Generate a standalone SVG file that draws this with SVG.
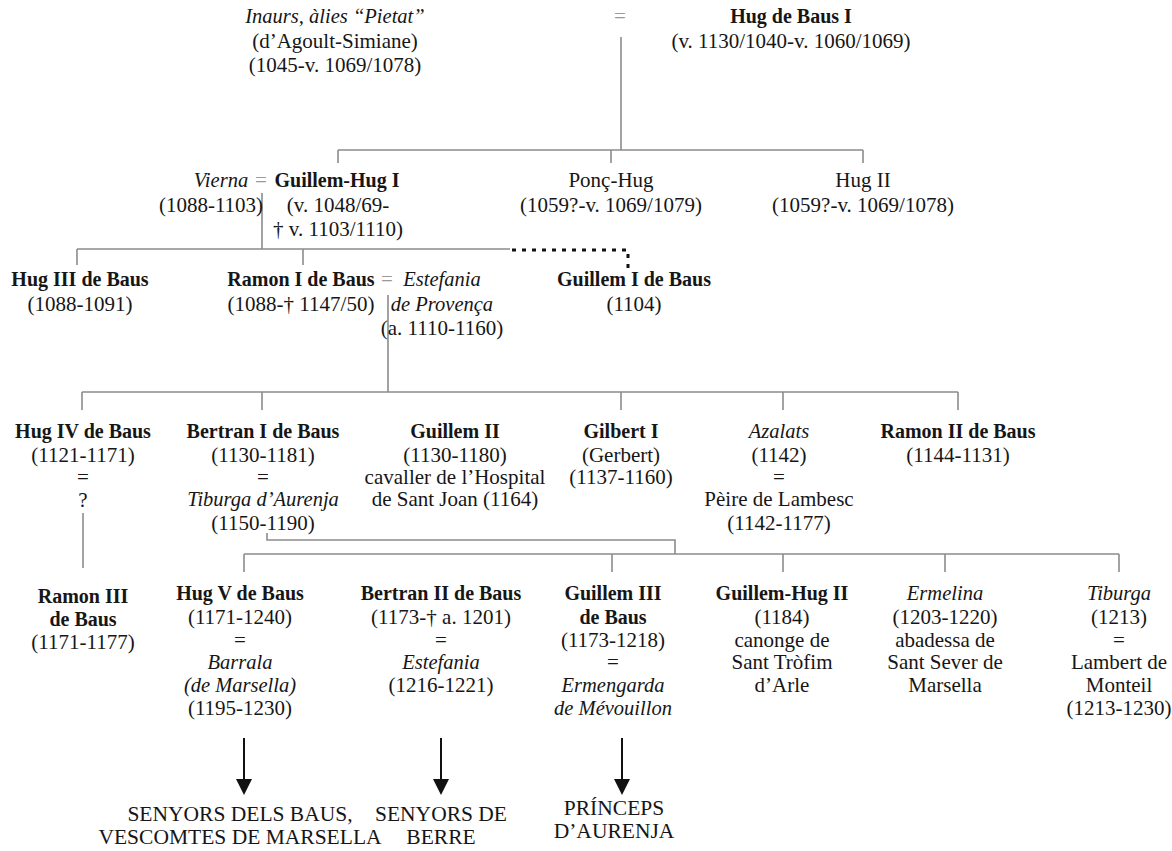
<svg xmlns="http://www.w3.org/2000/svg" width="1172" height="851" viewBox="0 0 1172 851">
  <style>
    text { font-family: "Liberation Serif", "Times New Roman", serif; font-size: 21px; fill: #161616; text-anchor: middle; }
    .b { font-weight: bold; font-size: 20px; }
    .i { font-style: italic; font-size: 20.5px; }
    .eq { fill: #9a9a9a; }
    .cap { font-size: 21.5px; }
    .ln { stroke: #8c8c8c; stroke-width: 1.6; fill: none; }
    .dot { stroke: #111; stroke-width: 3; stroke-dasharray: 4 6; fill: none; }
    .arr { stroke: #111; stroke-width: 2; fill: none; }
  </style>
  <defs>
    <marker id="head" viewBox="0 0 16 16" markerWidth="16" markerHeight="16" refX="0" refY="8" orient="auto" markerUnits="userSpaceOnUse">
      <path d="M0,0 L16,8 L0,16 Z" fill="#111"/>
    </marker>
  </defs>

  <rect width="1172" height="851" fill="#ffffff"/>

  <!-- connectors -->
  <g id="connectors">
    <path class="ln" d="M621,37 V150 M338,150 H863 M338,150 V163 M611,150 V163 M863,150 V163"/>
    <path class="ln" d="M262,193 V249 M77,249 H510 M77,249 V265 M303,249 V265"/>
    <path class="dot" d="M512,250 H628 V270"/>
    <path class="ln" d="M388,295 V392 M82,392 H958 M82,392 V410 M262,392 V410 M621,392 V410 M783,392 V410 M958,392 V410"/>
    <path class="ln" d="M83,513 V568"/>
    <path class="ln" d="M267,533 V540 H675 V554 M244,554 H1119 M244,554 V572 M612,554 V572 M783,554 V572 M945,554 V572 M1119,554 V572"/>
    <path class="arr" d="M244,738 V779" marker-end="url(#head)"/>
    <path class="arr" d="M441,738 V779" marker-end="url(#head)"/>
    <path class="arr" d="M622,738 V779" marker-end="url(#head)"/>
  </g>

  <!-- generation 1 -->
  <g id="inaurs">
    <text class="i" x="335" y="23">Inaurs, àlies “Pietat”</text>
    <text x="335" y="48">(d’Agoult-Simiane)</text>
    <text x="335" y="72">(1045-v. 1069/1078)</text>
  </g>
  <text class="eq" x="620" y="23">=</text>
  <g id="hug1">
    <text class="b" x="791" y="23">Hug de Baus I</text>
    <text x="791" y="48">(v. 1130/1040-v. 1060/1069)</text>
  </g>

  <!-- generation 2 -->
  <g id="vierna">
    <text class="i" x="221" y="187">Vierna</text>
    <text x="211" y="212">(1088-1103)</text>
  </g>
  <text class="eq" x="261" y="187">=</text>
  <g id="guillem-hug1">
    <text class="b" x="337" y="187">Guillem-Hug I</text>
    <text x="338" y="212">(v. 1048/69-</text>
    <text x="338" y="236">† v. 1103/1110)</text>
  </g>
  <g id="ponc-hug">
    <text x="611" y="187">Ponç-Hug</text>
    <text x="611" y="212">(1059?-v. 1069/1079)</text>
  </g>
  <g id="hug2">
    <text x="863" y="187">Hug II</text>
    <text x="863" y="212">(1059?-v. 1069/1078)</text>
  </g>

  <!-- generation 3 -->
  <g id="hug3">
    <text class="b" x="80" y="286">Hug III de Baus</text>
    <text x="80" y="311">(1088-1091)</text>
  </g>
  <g id="ramon1">
    <text class="b" x="301" y="286">Ramon I de Baus</text>
    <text x="301" y="311">(1088-† 1147/50)</text>
  </g>
  <text class="eq" x="387" y="286">=</text>
  <g id="estefania-provenca">
    <text class="i" x="442" y="286">Estefania</text>
    <text class="i" x="442" y="311">de Provença</text>
    <text x="442" y="335">(a. 1110-1160)</text>
  </g>
  <g id="guillem1">
    <text class="b" x="634" y="286">Guillem I de Baus</text>
    <text x="634" y="311">(1104)</text>
  </g>

  <!-- generation 4 -->
  <g id="hug4">
    <text class="b" x="83" y="438">Hug IV de Baus</text>
    <text x="83" y="462">(1121-1171)</text>
    <text x="83" y="484">=</text>
    <text x="83" y="507">?</text>
  </g>
  <g id="bertran1">
    <text class="b" x="263" y="438">Bertran I de Baus</text>
    <text x="263" y="462">(1130-1181)</text>
    <text x="263" y="484">=</text>
    <text class="i" x="263" y="506">Tiburga d’Aurenja</text>
    <text x="263" y="530">(1150-1190)</text>
  </g>
  <g id="guillem2">
    <text class="b" x="455" y="438">Guillem II</text>
    <text x="455" y="462">(1130-1180)</text>
    <text x="455" y="484">cavaller de l’Hospital</text>
    <text x="455" y="506">de Sant Joan (1164)</text>
  </g>
  <g id="gilbert1">
    <text class="b" x="621" y="438">Gilbert I</text>
    <text x="621" y="462">(Gerbert)</text>
    <text x="621" y="484">(1137-1160)</text>
  </g>
  <g id="azalats">
    <text class="i" x="779" y="438">Azalats</text>
    <text x="779" y="462">(1142)</text>
    <text x="779" y="484">=</text>
    <text x="779" y="506">Pèire de Lambesc</text>
    <text x="779" y="530">(1142-1177)</text>
  </g>
  <g id="ramon2">
    <text class="b" x="958" y="438">Ramon II de Baus</text>
    <text x="958" y="462">(1144-1131)</text>
  </g>

  <!-- generation 5 -->
  <g id="ramon3">
    <text class="b" x="83" y="603">Ramon III</text>
    <text class="b" x="83" y="626">de Baus</text>
    <text x="83" y="649">(1171-1177)</text>
  </g>
  <g id="hug5">
    <text class="b" x="240" y="600">Hug V de Baus</text>
    <text x="240" y="624">(1171-1240)</text>
    <text x="240" y="647">=</text>
    <text class="i" x="240" y="669">Barrala</text>
    <text class="i" x="240" y="692">(de Marsella)</text>
    <text x="240" y="715">(1195-1230)</text>
  </g>
  <g id="bertran2">
    <text class="b" x="441" y="600">Bertran II de Baus</text>
    <text x="441" y="624">(1173-† a. 1201)</text>
    <text x="441" y="647">=</text>
    <text class="i" x="441" y="669">Estefania</text>
    <text x="441" y="692">(1216-1221)</text>
  </g>
  <g id="guillem3">
    <text class="b" x="613" y="600">Guillem III</text>
    <text class="b" x="613" y="624">de Baus</text>
    <text x="613" y="647">(1173-1218)</text>
    <text x="613" y="669">=</text>
    <text class="i" x="613" y="692">Ermengarda</text>
    <text class="i" x="613" y="715">de Mévouillon</text>
  </g>
  <g id="guillem-hug2">
    <text class="b" x="782" y="600">Guillem-Hug II</text>
    <text x="782" y="624">(1184)</text>
    <text x="782" y="647">canonge de</text>
    <text x="782" y="669">Sant Tròfim</text>
    <text x="782" y="692">d’Arle</text>
  </g>
  <g id="ermelina">
    <text class="i" x="945" y="600">Ermelina</text>
    <text x="945" y="624">(1203-1220)</text>
    <text x="945" y="647">abadessa de</text>
    <text x="945" y="669">Sant Sever de</text>
    <text x="945" y="692">Marsella</text>
  </g>
  <g id="tiburga">
    <text class="i" x="1119" y="600">Tiburga</text>
    <text x="1119" y="624">(1213)</text>
    <text x="1119" y="647">=</text>
    <text x="1119" y="669">Lambert de</text>
    <text x="1119" y="692">Monteil</text>
    <text x="1119" y="715">(1213-1230)</text>
  </g>

  <!-- descendant lines -->
  <g id="senyors-baus">
    <text class="cap" x="240" y="821">SENYORS DELS BAUS,</text>
    <text class="cap" x="240" y="844">VESCOMTES DE MARSELLA</text>
  </g>
  <g id="senyors-berre">
    <text class="cap" x="441" y="821">SENYORS DE</text>
    <text class="cap" x="441" y="844">BERRE</text>
  </g>
  <g id="princeps-aurenja">
    <text class="cap" x="614" y="815">PRÍNCEPS</text>
    <text class="cap" x="614" y="838">D’AURENJA</text>
  </g>
</svg>
